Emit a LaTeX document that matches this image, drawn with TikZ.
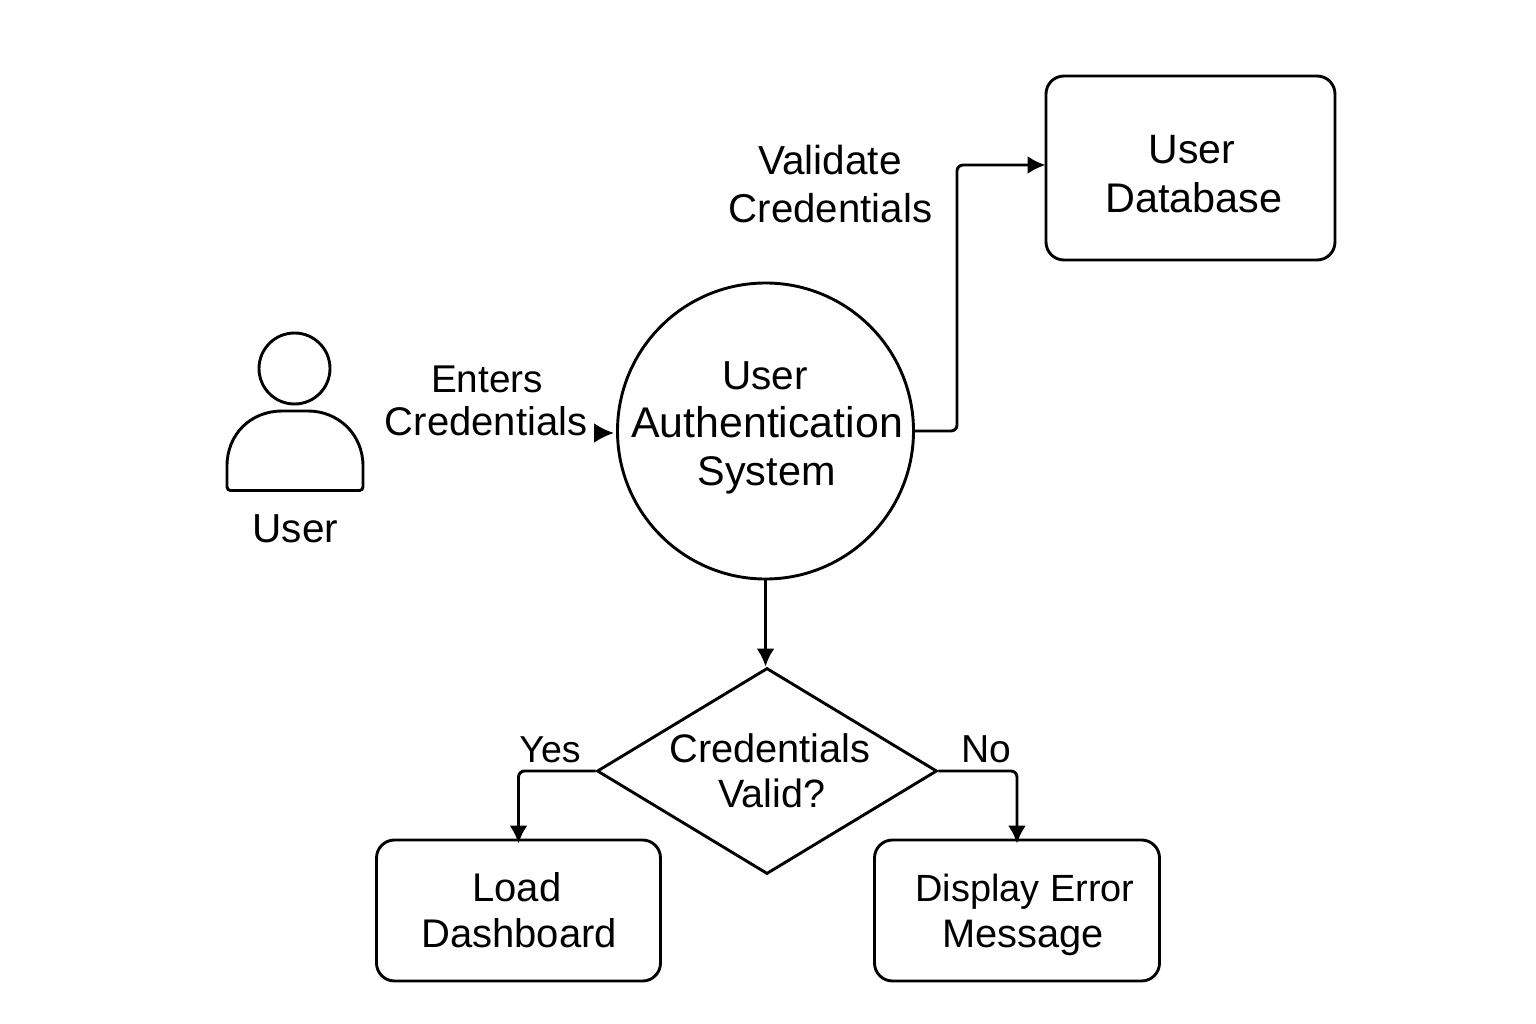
\documentclass[tikz,border=0pt]{standalone}
\usepackage{fontspec}
\setmainfont{Liberation Sans}
\usetikzlibrary{shapes.geometric,arrows.meta}
\begin{document}
\begin{tikzpicture}[x=1pt,y=-1pt,
  line/.style={draw=black,line width=2.9pt},
  arrow/.style={line,rounded corners=6pt,-{Latex[length=18pt,width=18pt]}},
  box/.style={line,rounded corners=18pt},
  txt/.style={font=\fontsize{#1}{44}\selectfont,anchor=base,inner sep=0pt,text=black},
  txt/.default=40]
\useasboundingbox (0,0) rectangle (1536,1024);
\path[fill=white] (0,0) rectangle (1536,1024);
% person
\node[circle,line,minimum size=71pt,inner sep=0pt] (head) at (294.5,368.5) {};
\draw[line] (227,487) -- (227,466) .. controls (227,434) and (251,411) .. (282,411) -- (308,411) .. controls (338,411) and (363,434) .. (363,466) -- (363,487) arc (0:90:3.5) -- (230.5,490.5) arc (90:180:3.5) -- cycle;
\node[txt=40.5] (userlabel) at (295.5,542) {User};
% nodes
\node[circle,line,minimum size=296pt,inner sep=0pt] (auth) at (765.5,431) {};
\node[txt=40.5] (t1) at (765,389.5) {User};
\node[txt=42.9] (t2) at (767,437.5) {Authentication};
\node[txt=41.4] (t3) at (766.5,485) {System};
\node[box,minimum width=289pt,minimum height=184pt] (db) at (1190.5,168) {};
\node[txt=41] (t4) at (1192,164) {User};
\node[txt=41.4] (t5) at (1194,212.5) {Database};
\node[diamond,line,minimum width=340pt,minimum height=206pt,inner sep=0pt] (dec) at (767,771) {};
\node[txt=39.8] (t6) at (770,762) {Credentials};
\node[txt=39.5] (t7) at (772,807) {Valid?};
\node[box,minimum width=284pt,minimum height=141pt] (load) at (518.5,910.5) {};
\node[txt=40] (t8) at (517,901) {Load};
\node[txt=40] (t9) at (519,947.5) {Dashboard};
\node[box,minimum width=285pt,minimum height=141pt] (err) at (1017,910.5) {};
\node[txt=37.9] (t10) at (1025,901) {Display Error};
\node[txt=39.8] (t11) at (1023,947) {Message};
% labels
\node[txt=38.7] (l1) at (487,392) {Enters};
\node[txt=40] (l2) at (486,435) {Credentials};
\node[txt=40.5] (l3) at (830,175) {Validate};
\node[txt=40.2] (l4) at (830.5,222.5) {Credentials};
\node[txt=37.5] (l5) at (550,762) {Yes};
\node[txt=39] (l6) at (986,762) {No};
% connectors
\coordinate (enter) at (594,433);
\coordinate (entertip) at (614,433);
\draw[arrow,-{Latex[length=20pt,width=20pt]}] (enter) -- (entertip);
\coordinate (a2) at (957,165);
\draw[arrow] (auth.east) -| (a2) -- ([xshift=1pt]db.west |- a2);
\draw[arrow] (auth.south) -- (auth.south |- dec.north);
\draw[arrow] (dec.west) -| ([yshift=-5pt]load.north);
\draw[arrow] (dec.east) -| ([yshift=-5pt]err.north);
\end{tikzpicture}
\end{document}
